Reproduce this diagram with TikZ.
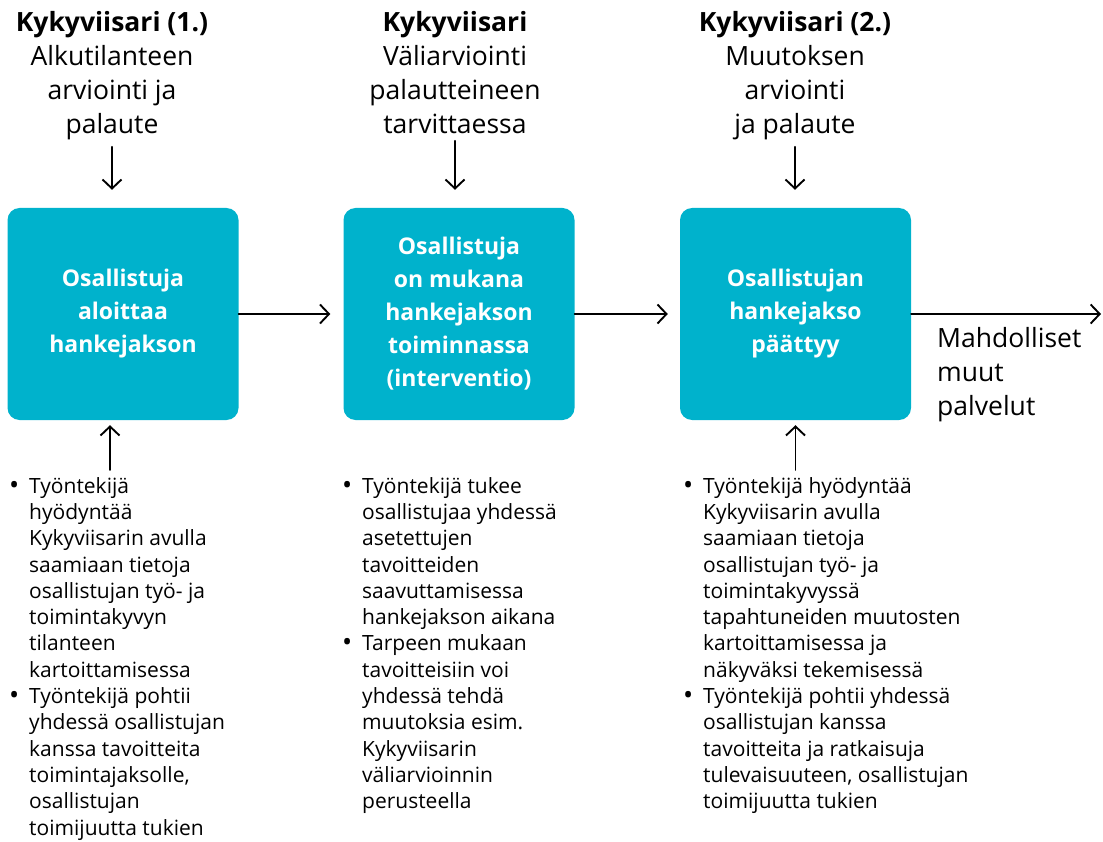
\documentclass[tikz,border=0pt]{standalone}
\usepackage{fontspec}
\setmainfont{Open Sans}
\usetikzlibrary{arrows.meta}
\definecolor{kvteal}{HTML}{00B2CC}
\newcommand{\bul}{\makebox[20pt][l]{\raisebox{-1pt}{\fontsize{27}{0}\selectfont\textbullet}}}
\newcommand{\ind}{\hspace*{20pt}}
\begin{document}
\begin{tikzpicture}[x=1pt, y=-1pt, line cap=round, line join=round,
		>={Straight Barb[length=9pt, width=19pt]},
		arr/.style={->, line width=1.9pt},
		head/.style={inner sep=0pt, anchor=north, align=center, font=\fontsize{26.5}{34}\selectfont},
		stage/.style={fill=kvteal, rounded corners=12pt, minimum width=231pt, minimum height=212pt, inner sep=0pt,
			text=white, align=center, font=\fontsize{23}{33}\selectfont\bfseries},
		notes/.style={inner sep=0pt, anchor=north west, align=left, font=\fontsize{21}{26.3}\selectfont}]
	\useasboundingbox (0,0) rectangle (1103,842);
	\node[head] (t1) at (112,11) {\textbf{Kykyviisari (1.)}\\Alkutilanteen\\arviointi ja\\palaute};
	\node[head] (t2) at (455,11) {\textbf{Kykyviisari}\\Väliarviointi\\palautteineen\\tarvittaessa};
	\node[head] (t3) at (795,11) {\textbf{Kykyviisari (2.)}\\Muutoksen\\arviointi\\ja palaute};
	\node[stage] (b1) at (123,314) {Osallistuja\\aloittaa\\hankejakson};
	\node[stage] (b2) at (459,314) {Osallistuja\\on mukana\\hankejakson\\toiminnassa\\(interventio)};
	\node[stage] (b3) at (795.5,314) {Osallistujan\\hankejakso\\päättyy};
	\node[notes] (l1) at (9,477) {\bul Työntekijä\\\ind hyödyntää\\\ind Kykyviisarin avulla\\\ind saamiaan tietoja\\\ind osallistujan työ- ja\\\ind toimintakyvyn\\\ind tilanteen\\\ind kartoittamisessa\\\bul Työntekijä pohtii\\\ind yhdessä osallistujan\\\ind kanssa tavoitteita\\\ind toimintajaksolle,\\\ind osallistujan\\\ind toimijuutta tukien};
	\node[notes] (l2) at (342,477) {\bul Työntekijä tukee\\\ind osallistujaa yhdessä\\\ind asetettujen\\\ind tavoitteiden\\\ind saavuttamisessa\\\ind hankejakson aikana\\\bul Tarpeen mukaan\\\ind tavoitteisiin voi\\\ind yhdessä tehdä\\\ind muutoksia esim.\\\ind Kykyviisarin\\\ind väliarvioinnin\\\ind perusteella};
	\node[notes] (l3) at (683,477) {\bul Työntekijä hyödyntää\\\ind Kykyviisarin avulla\\\ind saamiaan tietoja\\\ind osallistujan työ- ja\\\ind toimintakyvyssä\\\ind tapahtuneiden muutosten\\\ind kartoittamisessa ja\\\ind näkyväksi tekemisessä\\\bul Työntekijä pohtii yhdessä\\\ind osallistujan kanssa\\\ind tavoitteita ja ratkaisuja\\\ind tulevaisuuteen, osallistujan\\\ind toimijuutta tukien};
	\node[head, anchor=north west, align=left] (m) at (937,327) {Mahdolliset\\muut\\palvelut};
	\coordinate (u1) at (110,470);
	\coordinate (e) at (1101,314);
	\foreach \t/\b in {t1/b1, t2/b2, t3/b3}
		\draw[arr, shorten <=7pt, shorten >=18pt] (\t.south) -- (\t.south |- \b.north);
	\draw[arr, shorten >=5pt] (u1) -- (u1 |- b1.south);
	\draw[arr, shorten <=7pt, shorten >=5pt] (l3.north -| b3.south) -- (b3.south);
	\draw[arr, shorten >=13pt] (b1.east) -- (b2.west);
	\draw[arr, shorten >=12pt] (b2.east) -- (b3.west);
	\draw[arr] (b3.east) -- (e);
\end{tikzpicture}
\end{document}
